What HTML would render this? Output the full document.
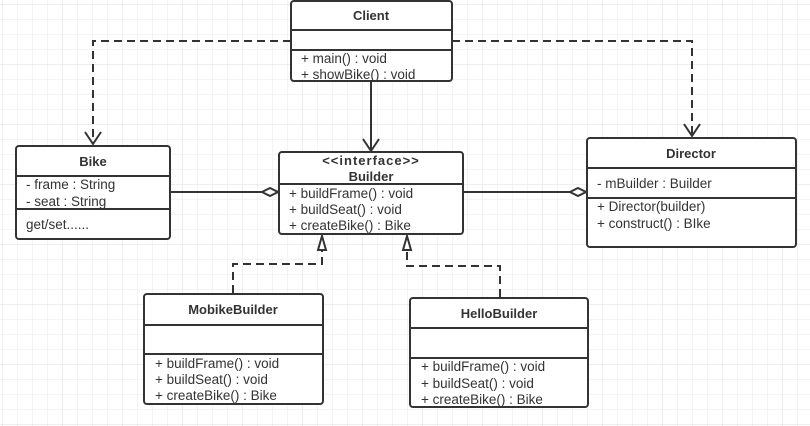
<!DOCTYPE html>
<html><head><meta charset="utf-8"><style>
html,body{margin:0;padding:0;background:#fff;}
svg{display:block;}
text{font-family:"Liberation Sans","DejaVu Sans",sans-serif;font-size:13.5px;fill:#333;}
.b{font-weight:bold;font-size:13px;}
</style></head><body>
<svg width="810" height="426" viewBox="0 0 810 426" xmlns="http://www.w3.org/2000/svg">
<defs>
<pattern id="g" width="15" height="15" patternUnits="userSpaceOnUse" x="3" y="5">
<path d="M15 0V15H0" fill="none" stroke="#e8e8e8" stroke-width="1"/>
</pattern>
<pattern id="G" width="60" height="60" patternUnits="userSpaceOnUse" x="3" y="5">
<path d="M60 0V60H0" fill="none" stroke="#dedede" stroke-width="1"/>
</pattern>
</defs>
<rect width="810" height="426" fill="url(#g)"/>
<rect width="810" height="426" fill="url(#G)"/>
<g stroke="#333" stroke-width="2" fill="none">
<path d="M291 41H93V144" stroke-dasharray="8,5"/>
<path d="M85 132L93 144L101 132"/>
<path d="M452 41H692V136" stroke-dasharray="8,5"/>
<path d="M684 124L692 136L700 124"/>
<path d="M371 81V151"/>
<path d="M363 139L371 151L379 139"/>
<path d="M170 192H262"/>
<path d="M262 192L270 188L278 192L270 196Z" fill="#fff"/>
<path d="M463 192H570"/>
<path d="M570 192L578 188L586 192L578 196Z" fill="#fff"/>
<path d="M233 293V264H322V250" stroke-dasharray="8,5"/>
<path d="M318 250L322 236L326 250Z" fill="#fff"/>
<path d="M500 297V266H407V250" stroke-dasharray="8,5"/>
<path d="M403 250L407 236L411 250Z" fill="#fff"/>
</g>
<g stroke="#333" stroke-width="2" fill="#fff">
<rect x="291" y="1" width="161" height="80" rx="3"/>
<path d="M291 30H452M291 50H452"/>
<rect x="16" y="146" width="154" height="93" rx="3"/>
<path d="M16 176H170M16 209H170"/>
<rect x="279" y="152" width="184" height="82" rx="3"/>
<path d="M279 184H463"/>
<rect x="587" y="138" width="209" height="109" rx="3"/>
<path d="M587 168H796M587 198H796"/>
<rect x="144" y="294" width="179" height="110" rx="3"/>
<path d="M144 325H323M144 354H323"/>
<rect x="410" y="298" width="178" height="109" rx="3"/>
<path d="M410 328H588M410 358H588"/>
</g>
<text x="371" y="20" text-anchor="middle" class="b">Client</text>
<text x="301" y="63">+ main() : void</text>
<text x="301" y="79">+ showBike() : void</text>
<text x="93" y="166" text-anchor="middle" class="b">Bike</text>
<text x="26" y="189">- frame : String</text>
<text x="26" y="206">- seat : String</text>
<text x="26" y="229">get/set......</text>
<text x="371" y="165" text-anchor="middle" class="b" style="letter-spacing:1px">&lt;&lt;interface&gt;&gt;</text>
<text x="371" y="181" text-anchor="middle" class="b">Builder</text>
<text x="289" y="198">+ buildFrame() : void</text>
<text x="289" y="214">+ buildSeat() : void</text>
<text x="289" y="230">+ createBike() : Bike</text>
<text x="691" y="158" text-anchor="middle" class="b">Director</text>
<text x="597" y="188">- mBuilder : Builder</text>
<text x="597" y="211">+ Director(builder)</text>
<text x="597" y="228">+ construct() : BIke</text>
<text x="233" y="314" text-anchor="middle" class="b">MobikeBuilder</text>
<text x="155" y="368">+ buildFrame() : void</text>
<text x="155" y="384">+ buildSeat() : void</text>
<text x="155" y="400">+ createBike() : Bike</text>
<text x="499" y="318" text-anchor="middle" class="b">HelloBuilder</text>
<text x="421" y="371">+ buildFrame() : void</text>
<text x="421" y="388">+ buildSeat() : void</text>
<text x="421" y="404">+ createBike() : Bike</text>
</svg>
</body></html>
